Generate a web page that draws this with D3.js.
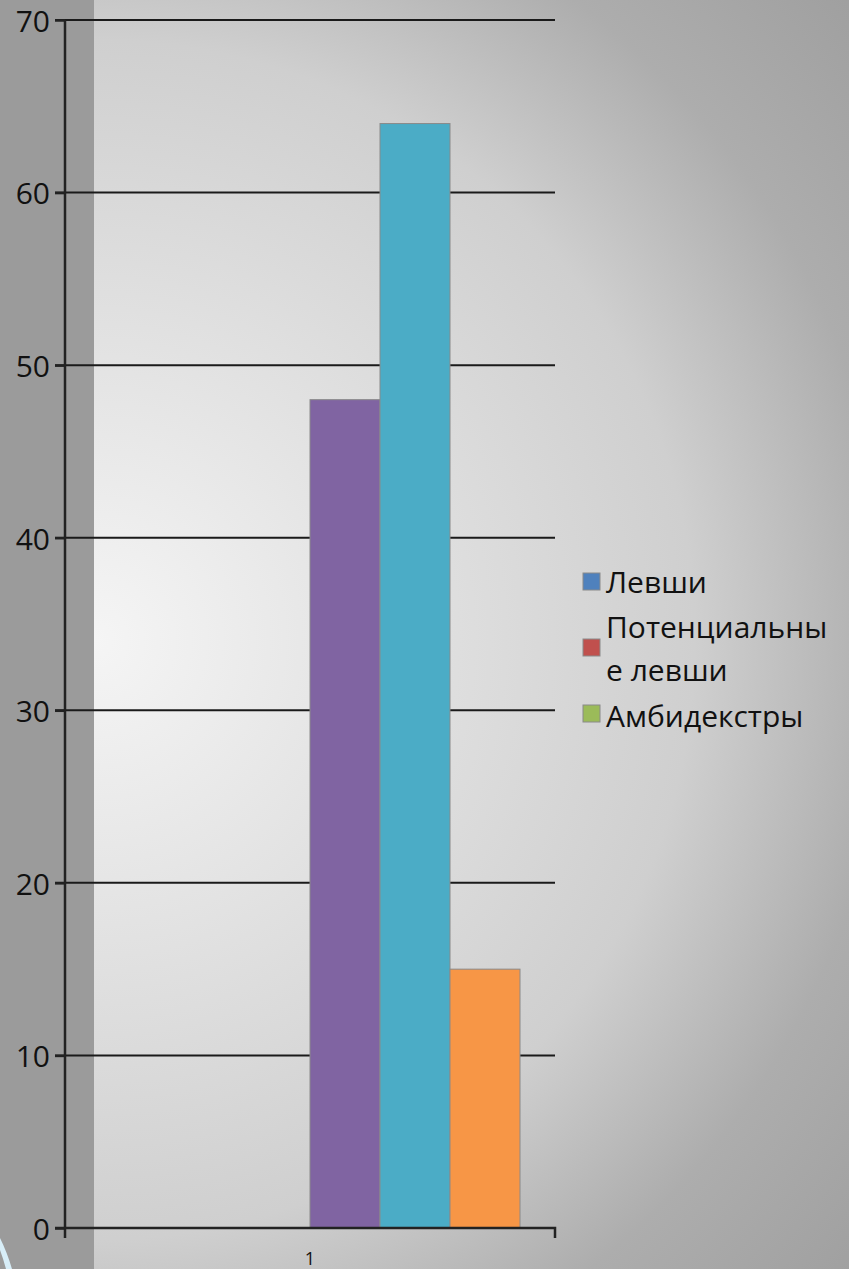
<!DOCTYPE html>
<html lang="ru">
<head>
    <meta charset="UTF-8">
    <title>Левши</title>
    <script src="https://d3js.org/d3.v7.min.js"></script>
    <style>
        body { margin: 0; background: #9b9b9b; }
        svg { display: block; }
        text { font-family: "Open Sans", "DejaVu Sans", sans-serif; fill: #111; }
        .grid { stroke: #1a1a1a; stroke-width: 2; }
        .axis path, .axis line { stroke: #222; stroke-width: 2.5; }
    </style>
</head>
<body>
<div id="chart"></div>

<script>
    // data
    const categories = ["1"];
    const seriesNames = ["Левши", "Потенциальные левши", "Амбидекстры", "Ряд 4", "Ряд 5", "Ряд 6"];
    const seriesValues = [0, 0, 0, 48, 64, 15];
    const seriesColors = ["#4f81bd", "#c0504d", "#9bbb59", "#8064a2", "#4bacc6", "#f79646"];
    const legendLabels = [["Левши"], ["Потенциальны", "е левши"], ["Амбидекстры"]];
    const yTicks = [0, 10, 20, 30, 40, 50, 60, 70];

    const width = 849, height = 1269;
    const plotLeft = 65, plotRight = 555, plotTop = 20, plotBottom = 1228;

    const svg = d3.select("#chart").append("svg")
        .attr("width", width)
        .attr("height", height);

    // background
    const defs = svg.append("defs");
    const bg = defs.append("radialGradient")
        .attr("id", "bg")
        .attr("gradientUnits", "userSpaceOnUse")
        .attr("cx", 95).attr("cy", 640).attr("r", 1000);
    bg.append("stop").attr("offset", 0).attr("stop-color", "#f5f5f5");
    bg.append("stop").attr("offset", 0.6).attr("stop-color", "#cfcfcf");
    bg.append("stop").attr("offset", 0.8).attr("stop-color", "#adadad");
    bg.append("stop").attr("offset", 1).attr("stop-color", "#9f9f9f");

    svg.append("rect").attr("width", width).attr("height", height).attr("fill", "url(#bg)");
    svg.append("rect").attr("width", 94).attr("height", height).attr("fill", "#9b9b9b");

    // little blue swoosh in the corner
    svg.append("path")
        .attr("d", "M0,1238 Q7,1252 12,1269 L6,1269 Q3,1258 0,1250 Z")
        .attr("fill", "#d8eef8");

    const x = d3.scaleBand().domain(categories).range([plotLeft, plotRight]).paddingInner(0).paddingOuter(35 / 420);
    const xs = d3.scaleBand().domain(d3.range(seriesValues.length)).range([0, x.bandwidth()]);
    const y = d3.scaleLinear().domain([0, 70]).range([plotBottom, plotTop]);

    // gridlines
    svg.append("g").selectAll("line")
        .data(yTicks.filter(d => d > 0))
        .join("line")
        .attr("class", "grid")
        .attr("x1", plotLeft - 10).attr("x2", plotRight)
        .attr("y1", d => y(d)).attr("y2", d => y(d));

    // bars
    svg.append("g").selectAll("rect")
        .data(seriesValues.map((v, i) => ({ v, i })).filter(d => d.v > 0))
        .join("rect")
        .attr("x", d => x(categories[0]) + xs(d.i))
        .attr("y", d => y(d.v))
        .attr("width", xs.bandwidth())
        .attr("height", d => y(0) - y(d.v))
        .attr("fill", d => seriesColors[d.i])
        .attr("stroke", "#8a8a8a")
        .attr("stroke-width", 1);

    // y axis
    const yAxis = svg.append("g")
        .attr("class", "axis")
        .attr("transform", "translate(" + plotLeft + ",0)")
        .call(d3.axisLeft(y).tickValues(yTicks).tickSize(10).tickSizeOuter(0).tickPadding(5));
    yAxis.select(".domain").attr("d", "M0," + plotTop + "V" + (plotBottom + 10));
    yAxis.selectAll("text").style("font-size", "30px").attr("dy", "0.38em");

    // x axis
    const xAxis = svg.append("g")
        .attr("class", "axis")
        .attr("transform", "translate(0," + plotBottom + ")")
        .call(d3.axisBottom(x).tickSize(0).tickPadding(0));
    xAxis.select(".domain").attr("d", "M" + (plotLeft - 10) + ",0H" + plotRight + "V10");
    xAxis.selectAll("text").style("font-size", "18px").attr("y", 37).attr("dy", null);

    // legend
    const legendRows = [
        { box: 573, lines: [593] },
        { box: 639, lines: [638, 681] },
        { box: 705, lines: [727] }
    ];
    const legend = svg.append("g");
    legendLabels.forEach((lab, i) => {
        legend.append("rect")
            .attr("x", 583).attr("y", legendRows[i].box)
            .attr("width", 17).attr("height", 17)
            .attr("fill", seriesColors[i])
            .attr("stroke", "#8a8a8a").attr("stroke-width", 1);
        lab.forEach((t, j) => {
            legend.append("text")
                .attr("x", 606).attr("y", legendRows[i].lines[j])
                .style("font-size", "30px")
                .text(t);
        });
    });
</script>
</body>
</html>
